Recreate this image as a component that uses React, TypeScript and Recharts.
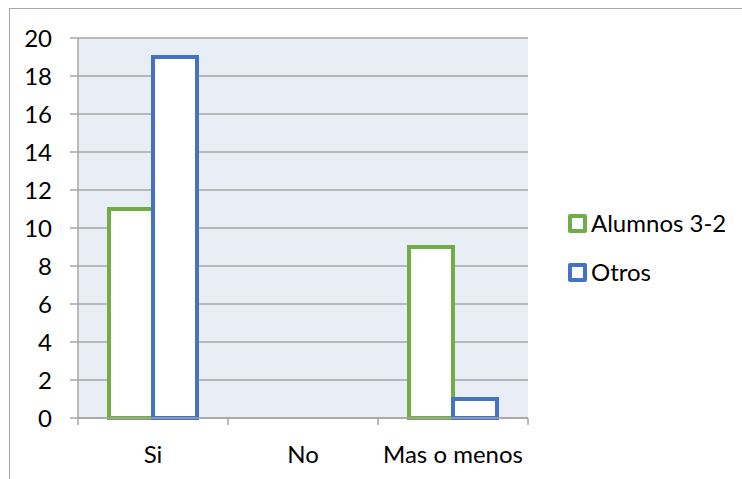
import { BarChart, Bar, XAxis, YAxis, CartesianGrid } from "recharts";

// Categories and values
const CATEGORIES = ["Si", "No", "Mas o menos"];
const ALUMNOS = [11, 0, 9];
const OTROS = [19, 0, 1];
const Y_TICKS = [0, 2, 4, 6, 8, 10, 12, 14, 16, 18, 20];

const SERIES = [
  { key: "alumnos", name: "Alumnos 3-2", color: "#70AD47" },
  { key: "otros", name: "Otros", color: "#4472C4" },
];

const data = CATEGORIES.map((c, i) => ({
  cat: c,
  alumnos: ALUMNOS[i],
  otros: OTROS[i],
}));

const FONT = "Lato, 'Open Sans', sans-serif";
const AXIS = "#A6A6A6";
const TICK = 7;

// Excel-style category tick: marks sit on the band edges, label in the middle
const CatTick = (props: any) => {
  const { x, y, payload, index } = props;
  const half = payload.offset ?? 0;
  const last = index === CATEGORIES.length - 1;
  return (
    <g>
      <line x1={x - half} x2={x - half} y1={y - TICK} y2={y} stroke={AXIS} strokeWidth={1.5} />
      {last && <line x1={x + half} x2={x + half} y1={y - TICK} y2={y} stroke={AXIS} strokeWidth={1.5} />}
      <text x={x} y={y + 21} dy="0.71em" textAnchor="middle" fill="#000" fontSize={24} fontFamily={FONT}>
        {payload.value}
      </text>
    </g>
  );
};

export default function App() {
  return (
    <div style={{ position: "absolute", left: 0, top: 0, width: 742, height: 479, background: "#fff", fontFamily: FONT, overflow: "hidden" }}>
      {/* outer chart frame */}
      <div style={{ position: "absolute", left: 9, top: 8, width: 760, height: 500, borderTop: `1px solid ${AXIS}`, borderLeft: `1px solid ${AXIS}` }} />
      <div style={{ position: "absolute", left: 0, top: 0 }}>
        <BarChart
          width={742}
          height={479}
          data={data}
          margin={{ top: 38, right: 214, bottom: 0, left: 0 }}
          barGap={0}
          barSize={44}
        >
          <CartesianGrid
            vertical={false}
            fill="#E9EDF6"
            stroke={AXIS}
            strokeWidth={1.5}
          />
          <XAxis
            dataKey="cat"
            tickLine={false}
            tickSize={TICK}
            tickMargin={0}
            height={61}
            interval={0}
            stroke={AXIS}
            strokeWidth={1.5}
            tick={<CatTick />}
          />
          <YAxis
            domain={[0, 20]}
            ticks={Y_TICKS}
            width={78}
            tickSize={8}
            tickMargin={18}
            interval={0}
            stroke={AXIS}
            strokeWidth={1.5}
            tick={{ fill: "#000", fontSize: 24, fontFamily: FONT }}
          />
          {SERIES.map((s) => (
            <Bar
              key={s.key}
              dataKey={s.key}
              name={s.name}
              fill="#fff"
              stroke={s.color}
              strokeWidth={4}
              isAnimationActive={false}
            />
          ))}
        </BarChart>
      </div>
      {/* legend */}
      <div style={{ position: "absolute", left: 568, top: 209 }}>
        {SERIES.map((s) => (
          <div key={s.key} style={{ display: "flex", alignItems: "center", height: 28, marginBottom: 21 }}>
            <div style={{ width: 11, height: 11, border: `4px solid ${s.color}`, borderRadius: 2, background: "#fff", marginRight: 4 }} />
            <span style={{ fontSize: 24, color: "#000", lineHeight: "28px" }}>{s.name}</span>
          </div>
        ))}
      </div>
    </div>
  );
}
